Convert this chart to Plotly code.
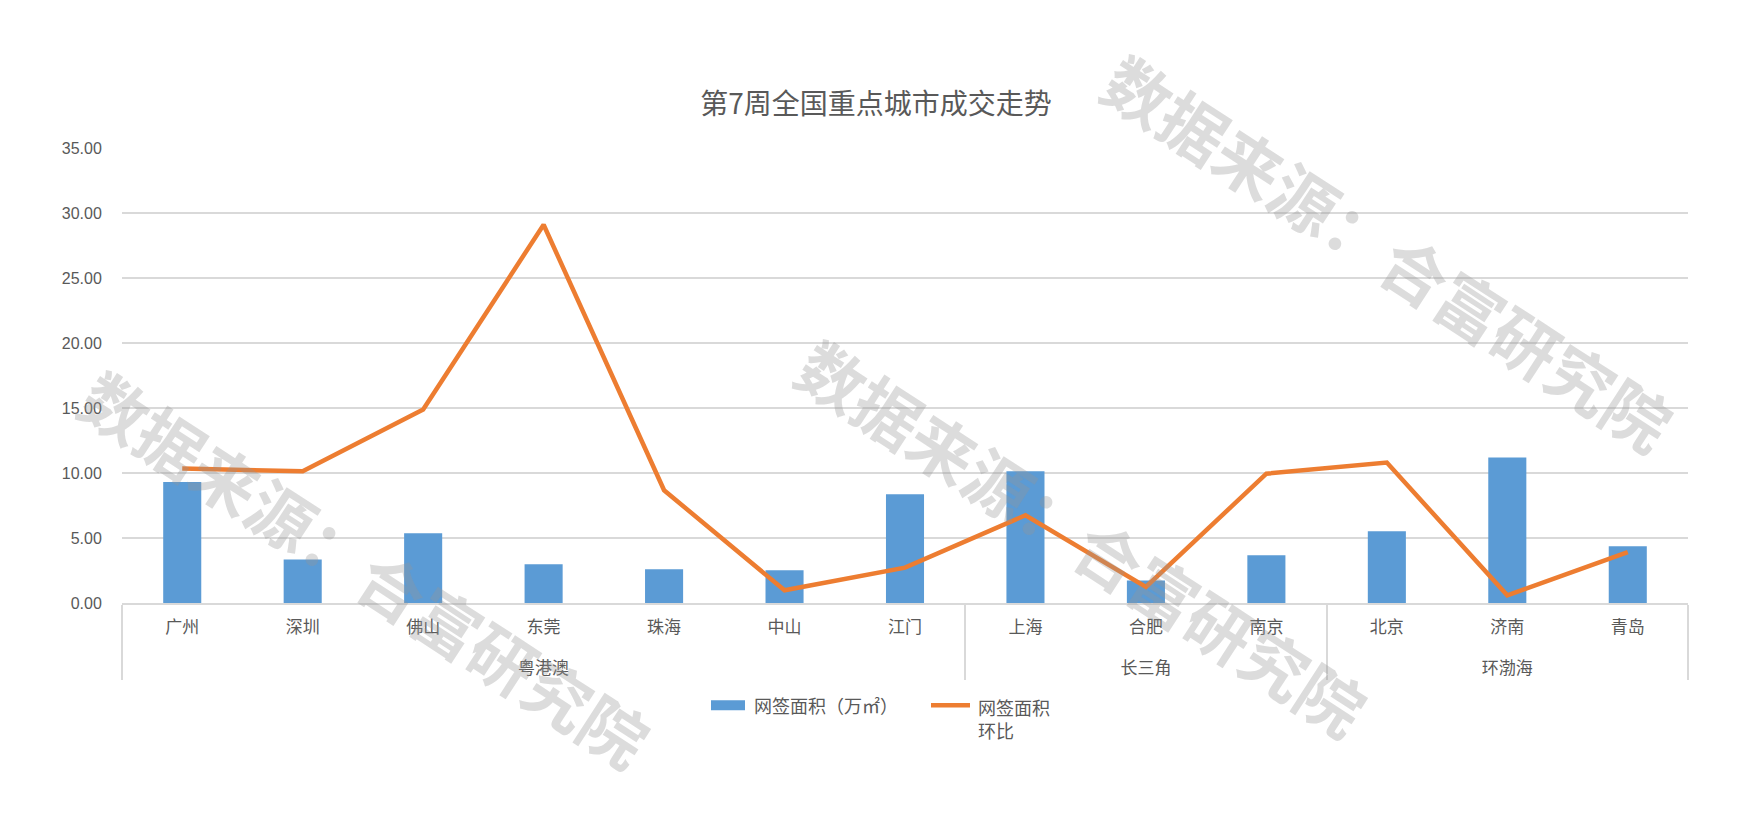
import plotly.graph_objects as go

# ---- data ----
regions = ["粤港澳"] * 7 + ["长三角"] * 3 + ["环渤海"] * 3
cities = ["广州", "深圳", "佛山", "东莞", "珠海", "中山", "江门",
          "上海", "合肥", "南京", "北京", "济南", "青岛"]
area = [9.30, 3.35, 5.36, 2.98, 2.59, 2.51, 8.36, 10.13, 1.74, 3.67, 5.51, 11.20, 4.36]
mom = [10.34, 10.13, 14.88, 29.10, 8.67, 0.98, 2.72, 6.75, 1.23, 9.95, 10.80, 0.59, 3.92]
y_ticks = [0, 5, 10, 15, 20, 25, 30, 35]
title_text = "第7周全国重点城市成交走势"
bar_name = "网签面积（万㎡）"
line_name = "网签面积<br>环比"
watermark = "数据来源：合富研究院"

W, H = 1750, 837
L, R, T, B = 122, 62, 147.7, 234.3
plot_w = W - L - R
plot_h = H - T - B
CJK = "Noto Sans CJK SC"
GRAY = "#595959"
BLUE = "#5B9BD5"
ORANGE = "#ED7D31"


def px(x):
    return (x - L) / plot_w


def py(y):
    return (H - B - y) / plot_h


region_labels = ["<br>" + r for r in regions]

fig = go.Figure()
fig.add_trace(go.Bar(x=[region_labels, cities], y=area, name=bar_name,
                     marker=dict(color=BLUE, line=dict(width=0)), showlegend=False))
fig.add_trace(go.Scatter(x=[region_labels, cities], y=mom, name=line_name, mode="lines",
                         line=dict(color=ORANGE, width=4.5), showlegend=False))

fig.update_layout(
    width=W, height=H,
    margin=dict(l=L, r=R, t=T, b=B, autoexpand=False),
    paper_bgcolor="white", plot_bgcolor="white",
    bargap=0.684,
    font=dict(family=CJK, color=GRAY, size=17),
    title=dict(text=title_text, x=0.5006, xref="container", y=1 - 104 / H,
               yref="container", xanchor="center", yanchor="middle",
               font=dict(family=CJK, size=28, color=GRAY)),
)
fig.update_xaxes(
    type="multicategory", showgrid=False, ticks="",
    ticklabelstandoff=8,
    showline=True, linecolor="#d9d9d9", linewidth=1.5,
    showdividers=True, dividercolor="#d9d9d9", dividerwidth=1.5,
    tickfont=dict(family=CJK, size=17, color=GRAY),
)
fig.update_yaxes(
    range=[0, 35], tickvals=y_ticks, tickformat=".2f",
    showgrid=True, gridcolor="#d9d9d9", gridwidth=1.5,
    zeroline=False, showline=False,
    ticks="outside", ticklen=16, tickcolor="rgba(0,0,0,0)",
    tickfont=dict(family="Liberation Sans", size=16, color=GRAY),
)

# custom legend
fig.add_shape(type="rect", xref="paper", yref="paper",
              x0=px(711), x1=px(745), y0=py(710), y1=py(700),
              fillcolor=BLUE, line=dict(width=0))
fig.add_annotation(xref="paper", yref="paper", x=px(752), y=py(705),
                   text=bar_name, showarrow=False, xanchor="left", yanchor="middle",
                   font=dict(family=CJK, size=18, color=GRAY))
fig.add_shape(type="line", xref="paper", yref="paper",
              x0=px(931), x1=px(970), y0=py(705), y1=py(705),
              line=dict(color=ORANGE, width=4.5))
fig.add_annotation(xref="paper", yref="paper", x=px(976), y=py(692),
                   text=line_name, showarrow=False, xanchor="left", yanchor="top",
                   align="left", font=dict(family=CJK, size=18, color=GRAY))

# watermarks
for cx, cy in [(1389, 251), (1083, 536), (366, 567)]:
    fig.add_annotation(xref="paper", yref="paper", x=px(cx), y=py(cy),
                       text="<b>" + watermark + "</b>", showarrow=False,
                       textangle=33, xanchor="center", yanchor="middle",
                       font=dict(family=CJK, size=66, color="rgba(150,150,150,0.33)"))

fig.write_html("out.html")
